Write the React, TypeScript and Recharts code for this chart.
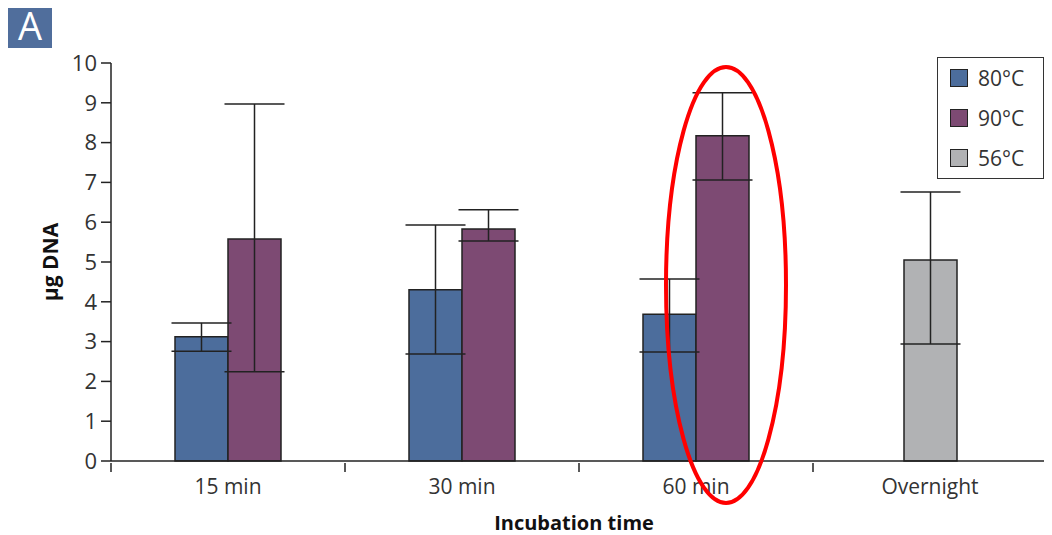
// DNA yield by incubation time and temperature, grouped bars with error bars
import React from "react";
import { BarChart, Bar, XAxis, YAxis, ErrorBar } from "recharts";

const categories = ["15 min", "30 min", "60 min", "Overnight"];
// means (µg DNA)
const dna80 = [3.12, 4.3, 3.69, null];
const dna90 = [5.58, 5.83, 8.17, null];
const dna56 = [null, null, null, 5.05];
// error deltas: [down, up]
const err80 = [[0.36, 0.35], [1.61, 1.63], [0.95, 0.88], null];
const err90 = [[3.34, 3.39], [0.3, 0.48], [1.11, 1.08], null];
const err56 = [null, null, null, [2.11, 1.71]];
const yTicks = [0, 1, 2, 3, 4, 5, 6, 7, 8, 9, 10];

const series = [
  { key: "t80", name: "80°C", color: "#4c6d9c" },
  { key: "t90", name: "90°C", color: "#7d4a73" },
  { key: "t56", name: "56°C", color: "#b1b2b4" },
];

const data = categories.map((cat, i) => ({
  cat,
  t80: dna80[i],
  t90: dna90[i],
  t56: dna56[i],
  e80: err80[i],
  e90: err90[i],
  e56: err56[i],
}));

const FONT = "'Open Sans', 'DejaVu Sans', sans-serif";
const W = 1044;
const H = 527;
const M = { top: 55, right: 5, left: 43, bottom: 34 };
const Y_W = 60;
const BAND = (W - M.left - M.right - Y_W) / categories.length;

function XTick(props: any) {
  const { x, y, payload, index } = props;
  const last = index === categories.length - 1;
  return (
    <g>
      <line x1={x - BAND / 2} x2={x - BAND / 2} y1={y} y2={y + 9} stroke="#222" strokeWidth={1.5} />
      {last && (
        <line x1={x + BAND / 2} x2={x + BAND / 2} y1={y} y2={y + 9} stroke="#222" strokeWidth={1.5} />
      )}
      <text x={x} y={y + 23} textAnchor="middle" dominantBaseline="central" fill="#333" fontSize={21} fontFamily={FONT}>
        {payload.value}
      </text>
    </g>
  );
}

function LegendBox() {
  return (
    <div
      style={{
        position: "absolute",
        top: 49,
        left: 929,
        border: "1.5px solid #333",
        width: 107,
        height: 122,
        boxSizing: "border-box",
        background: "#fff",
        fontFamily: FONT,
        fontSize: 21,
        color: "#333",
        paddingTop: 0,
      }}
    >
      {series.map((s) => (
        <div key={s.key} style={{ height: 40, display: "flex", alignItems: "center", paddingLeft: 12 }}>
          <span
            style={{
              display: "inline-block",
              width: 18,
              height: 18,
              boxSizing: "border-box",
              background: s.color,
              border: "1.5px solid #222",
              marginRight: 10,
            }}
          />
          <span>{s.name}</span>
        </div>
      ))}
    </div>
  );
}

export default function App() {
  return (
    <div style={{ position: "relative", width: W, height: H }}>
      <div
        style={{
          position: "absolute",
          left: 0,
          top: -6,
          width: 44,
          height: 46,
          background: "#506e9c",
          color: "#fff",
          fontFamily: FONT,
          fontSize: 38,
          lineHeight: "46px",
          textAlign: "center",
        }}
      >
        A
      </div>
      <BarChart width={W} height={H} data={data} margin={M} barGap={0} barCategoryGap={0}>
        <XAxis
          dataKey="cat"
          xAxisId="main"
          height={40}
          tickSize={0}
          tickLine={false}
          tick={<XTick />}
          interval={0}
          axisLine={{ stroke: "#222", strokeWidth: 1.5 }}
          label={{
            content: (p: any) => (
              <text
                x={p.viewBox.x + p.viewBox.width / 2 - 5}
                y={p.viewBox.y + 61}
                textAnchor="middle"
                dominantBaseline="central"
                fontFamily={FONT}
                fontWeight="bold"
                fontSize={20}
                fill="#111"
              >
                Incubation time
              </text>
            ),
          }}
        />
        <XAxis dataKey="cat" xAxisId="gray" hide height={0} />
        <YAxis
          width={Y_W}
          domain={[0, 10]}
          ticks={yTicks}
          interval={0}
          tickSize={10}
          tickMargin={4}
          axisLine={{ stroke: "#222", strokeWidth: 1.5 }}
          tickLine={{ stroke: "#222", strokeWidth: 1.5 }}
          tick={{ fill: "#333", fontSize: 22, fontFamily: FONT }}
          label={{
            content: (p: any) => (
              <text
                x={p.viewBox.x - 1}
                y={p.viewBox.y + p.viewBox.height / 2}
                transform={`rotate(-90, ${p.viewBox.x - 1}, ${p.viewBox.y + p.viewBox.height / 2})`}
                textAnchor="middle"
                dominantBaseline="central"
                fontFamily={FONT}
                fontWeight="bold"
                fontSize={21}
                fill="#111"
              >
                µg DNA
              </text>
            ),
          }}
        />
        <Bar xAxisId="main" dataKey="t80" name="80°C" fill={series[0].color} stroke="#222" strokeWidth={1.5} barSize={53} isAnimationActive={false}>
          <ErrorBar dataKey="e80" width={30} stroke="#222" strokeWidth={1.5} />
        </Bar>
        <Bar xAxisId="main" dataKey="t90" name="90°C" fill={series[1].color} stroke="#222" strokeWidth={1.5} barSize={53} isAnimationActive={false}>
          <ErrorBar dataKey="e90" width={30} stroke="#222" strokeWidth={1.5} />
        </Bar>
        <Bar xAxisId="gray" dataKey="t56" name="56°C" fill={series[2].color} stroke="#222" strokeWidth={1.5} barSize={53} isAnimationActive={false}>
          <ErrorBar dataKey="e56" width={30} stroke="#222" strokeWidth={1.5} />
        </Bar>
      </BarChart>
      <LegendBox />
      <svg
        width={W}
        height={H}
        style={{ position: "absolute", left: 0, top: 0, pointerEvents: "none", overflow: "visible" }}
      >
        <ellipse cx={718} cy={277} rx={60} ry={218} fill="none" stroke="#ff0000" strokeWidth={4} />
      </svg>
    </div>
  );
}
